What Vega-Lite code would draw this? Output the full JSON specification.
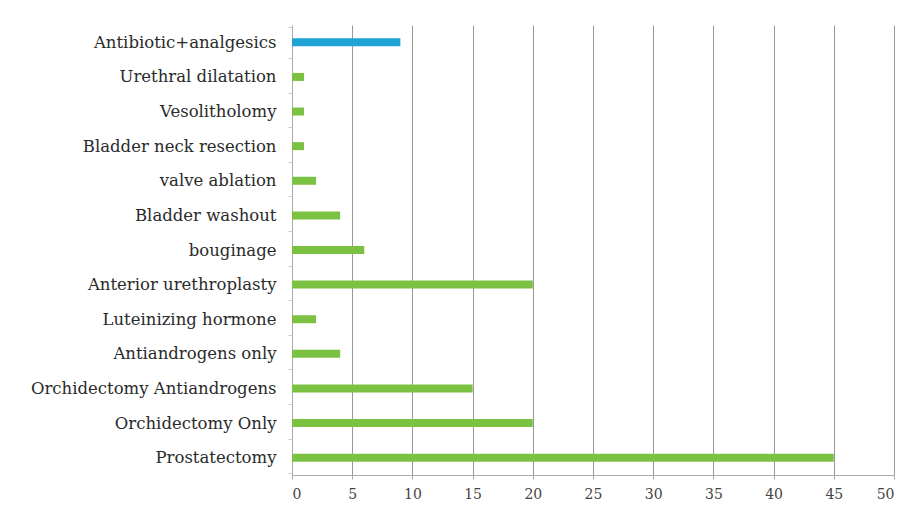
{
  "$schema": "https://vega.github.io/schema/vega-lite/v6.json",
  "width": 602,
  "height": 450,
  "autosize": {"type": "none"},
  "padding": {"left": 292, "top": 25, "right": 24, "bottom": 42},
  "background": "white",
  "data": {
    "values": [
      {"treatment": "Antibiotic+analgesics", "count": 9, "group": "medical"},
      {"treatment": "Urethral dilatation", "count": 1, "group": "surgical"},
      {"treatment": "Vesolitholomy", "count": 1, "group": "surgical"},
      {"treatment": "Bladder neck resection", "count": 1, "group": "surgical"},
      {"treatment": "valve ablation", "count": 2, "group": "surgical"},
      {"treatment": "Bladder washout", "count": 4, "group": "surgical"},
      {"treatment": "bouginage", "count": 6, "group": "surgical"},
      {"treatment": "Anterior urethroplasty", "count": 20, "group": "surgical"},
      {"treatment": "Luteinizing hormone", "count": 2, "group": "surgical"},
      {"treatment": "Antiandrogens only", "count": 4, "group": "surgical"},
      {"treatment": "Orchidectomy Antiandrogens", "count": 15, "group": "surgical"},
      {"treatment": "Orchidectomy Only", "count": 20, "group": "surgical"},
      {"treatment": "Prostatectomy", "count": 45, "group": "surgical"}
    ]
  },
  "mark": {"type": "bar", "size": 8},
  "encoding": {
    "y": {
      "field": "treatment",
      "type": "nominal",
      "sort": null,
      "title": null,
      "axis": {
        "labelFont": "DejaVu Serif",
        "labelFontSize": 16.5,
        "labelColor": "#2a2a2a",
        "labelPadding": 12,
        "domainColor": "#aaa",
        "tickColor": "#ccc",
        "tickSize": 4,
        "tickBand": "extent",
        "labelLimit": 300
      }
    },
    "x": {
      "field": "count",
      "type": "quantitative",
      "title": null,
      "scale": {"domain": [0, 50]},
      "axis": {
        "values": [0, 5, 10, 15, 20, 25, 30, 35, 40, 45, 50],
        "labelFont": "DejaVu Serif",
        "labelFontSize": 14,
        "labelColor": "#444",
        "labelPadding": 8,
        "grid": true,
        "gridColor": "#999",
        "domainColor": "#aaa",
        "tickColor": "#aaa",
        "tickSize": 4
      }
    },
    "color": {
      "field": "group",
      "type": "nominal",
      "scale": {"domain": ["medical", "surgical"], "range": ["#1fa3d6", "#7cc242"]},
      "legend": null
    }
  },
  "config": {"view": {"stroke": null}}
}
